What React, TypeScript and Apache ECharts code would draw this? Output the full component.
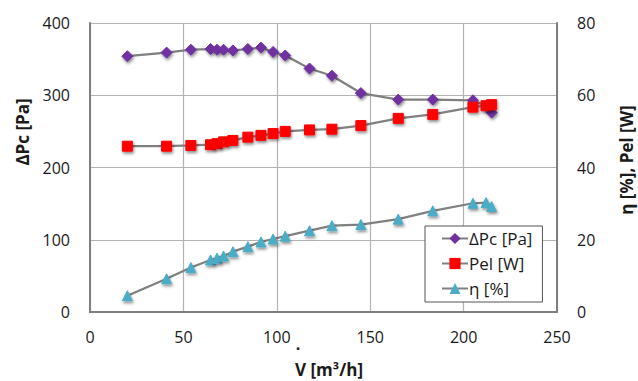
import React, { useEffect, useRef } from "react";
import * as echarts from "echarts";

const flow = [20, 41, 54, 64.5, 68, 71.5, 76.5, 84.5, 91.5, 98, 104.5, 117.5, 129.5, 145, 165, 183.5, 205, 212, 215];
const dpc = [354, 359, 363, 364, 363, 363, 362, 364, 366, 360, 355, 337, 327, 303, 294, 294, 293, 285, 276];
const pel = [45.9, 45.9, 46.1, 46.3, 46.6, 47.1, 47.5, 48.4, 48.9, 49.4, 50.0, 50.4, 50.6, 51.6, 53.6, 54.7, 56.7, 57.1, 57.4];
const eta = [4.5, 9.2, 12.3, 14.4, 14.9, 15.5, 16.7, 18.1, 19.4, 20.2, 21.0, 22.5, 23.9, 24.2, 25.7, 28.0, 30.1, 30.3, 29.2];

const seriesNames = ["ΔPc [Pa]", "Pel [W]", "η [%]"];
const FONT = "'Open Sans', sans-serif";

function pairs(xs: number[], ys: number[]) {
  return xs.map((x, i) => [x, ys[i]]);
}

export default function App() {
  const ref = useRef<HTMLDivElement>(null);
  useEffect(() => {
    if (!ref.current) return;
    const chart = echarts.init(ref.current, null, { renderer: "svg" });
    const shadow = {
      shadowBlur: 3,
      shadowColor: "rgba(0,0,0,0.45)",
      shadowOffsetX: 1,
      shadowOffsetY: 2,
    };
    const lineStyle = { color: "#808080", width: 2.25 };
    chart.setOption({
      animation: false,
      backgroundColor: "#ffffff",
      textStyle: { fontFamily: FONT },
      grid: { left: 90, right: 81, top: 23, bottom: 69 },
      legend: {
        orient: "vertical",
        left: 425,
        top: 226,
        width: 123,
        padding: [4, 10, 5, 16],
        itemGap: 8,
        itemWidth: 26,
        itemHeight: 14,
        backgroundColor: "#ffffff",
        borderColor: "#555555",
        borderWidth: 1,
        textStyle: { fontFamily: FONT, fontSize: 17, color: "#1a1a1a", padding: [0, 0, 0, -4] },
        data: seriesNames,
      },
      xAxis: {
        type: "value",
        min: 0,
        max: 250,
        interval: 50,
        axisLine: { show: true, lineStyle: { color: "#7f7f7f", width: 2 } },
        axisTick: { show: false },
        axisLabel: { fontFamily: FONT, fontSize: 16, color: "#1a1a1a", margin: 17 },
        splitLine: { show: true, lineStyle: { color: "#b3b3b3", width: 1.2 } },
      },
      yAxis: [
        {
          type: "value",
          min: 0,
          max: 400,
          interval: 100,
          axisLine: { show: true, lineStyle: { color: "#7f7f7f", width: 2 } },
          axisTick: { show: false },
          axisLabel: { fontFamily: FONT, fontSize: 16, color: "#1a1a1a", margin: 20 },
          splitLine: { show: true, lineStyle: { color: "#b3b3b3", width: 1.2 } },
        },
        {
          type: "value",
          position: "right",
          min: 0,
          max: 80,
          interval: 20,
          axisLine: { show: true, lineStyle: { color: "#7f7f7f", width: 2 } },
          axisTick: { show: false },
          axisLabel: { fontFamily: FONT, fontSize: 16, color: "#1a1a1a", margin: 20 },
          splitLine: { show: false },
        },
      ],
      series: [
        {
          name: seriesNames[0],
          type: "line",
          yAxisIndex: 0,
          data: pairs(flow, dpc),
          symbol: "diamond",
          symbolSize: 11,
          lineStyle,
          itemStyle: { color: "#7030a0", borderColor: "#7030a0", ...shadow },
          z: 2,
        },
        {
          name: seriesNames[1],
          type: "line",
          yAxisIndex: 1,
          data: pairs(flow, pel),
          symbol: "rect",
          symbolSize: 10,
          lineStyle,
          itemStyle: { color: "#ff0000", borderColor: "#ff0000", ...shadow },
          z: 3,
        },
        {
          name: seriesNames[2],
          type: "line",
          yAxisIndex: 1,
          data: pairs(flow, eta),
          symbol: "triangle",
          symbolSize: 10,
          lineStyle,
          itemStyle: { color: "#4bacc6", borderColor: "#4bacc6", ...shadow },
          z: 4,
        },
      ],
      graphic: [
        {
          type: "text",
          x: 329,
          y: 369,
          style: {
            text: "V [m³/h]",
            font: `bold 17px ${FONT}`,
            fill: "#1a1a1a",
            align: "center",
            verticalAlign: "middle",
          },
        },
        {
          type: "text",
          x: 298,
          y: 344,
          style: {
            text: ".",
            font: `bold 16px ${FONT}`,
            fill: "#1a1a1a",
            align: "center",
            verticalAlign: "middle",
          },
        },
        {
          type: "text",
          x: 22,
          y: 132,
          rotation: Math.PI / 2,
          style: {
            text: "ΔPc [Pa]",
            font: `bold 17px ${FONT}`,
            fill: "#1a1a1a",
            align: "center",
            verticalAlign: "middle",
          },
        },
        {
          type: "text",
          x: 626,
          y: 160,
          rotation: Math.PI / 2,
          style: {
            text: "η [%], Pel [W]",
            font: `bold 17px ${FONT}`,
            fill: "#1a1a1a",
            align: "center",
            verticalAlign: "middle",
          },
        },
      ],
    });
    return () => chart.dispose();
  }, []);
  return (
    <div
      ref={ref}
      style={{ position: "absolute", left: 0, top: 0, width: 638, height: 381 }}
    />
  );
}
